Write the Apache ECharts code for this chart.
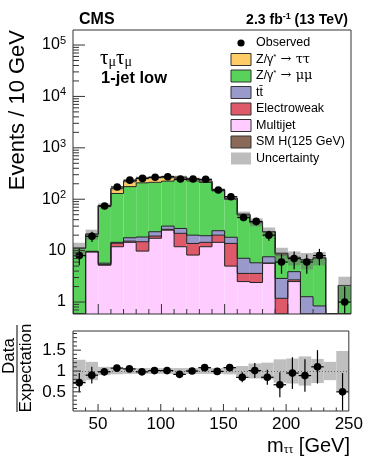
<!DOCTYPE html>
<html>
<head>
<meta charset="utf-8">
<script src="https://cdn.jsdelivr.net/npm/echarts@6/dist/echarts.min.js"></script>
<style>
html, body { margin: 0; padding: 0; background: #fff; }
#chart { width: 366px; height: 463px; }
</style>
</head>
<body>
<div id="chart"></div>
<script>
// lower bin edges, every bin is 10 GeV wide
var binLo = [30, 40, 50, 60, 70, 80, 90, 100, 110, 120, 130, 140, 150, 160, 170, 180, 190, 200, 210, 220, 230, 240]
// stacked backgrounds, bottom to top
var multijet = [0, 9.4, 5.2, 11.9, 14.5, 9.8, 17.4, 25, 11.9, 8.2, 11.9, 14.5, 5.0, 2.5, 2.4, 5.7, 0, 2.5, 0, 0, 0, 0]
var electroweak = [0, 0.1, 0.2, 2.0, 0.8, 5.1, 1.8, 1.0, 9.8, 5.6, 2.6, 5.5, 8.8, 1.1, 1.2, 0, 1.18, 0.2, 0, 0, 0, 0]
var ttbar = [0, 0.2, 0.3, 0.6, 2.5, 3.5, 4.1, 4.0, 5.3, 6.2, 5.0, 4.4, 4.4, 3.5, 2.2, 1.9, 1.7, 1.2, 1.27, 0.84, 0, 0]
var zmumu = [11.1, 11.0, 67, 115, 158, 190, 190, 195, 215, 207, 192, 121, 81, 42, 29, 15.4, 5.4, 3.3, 5.3, 6.3, 0, 2.1]
var ztautau = [0.1, 0.3, 3, 32, 48, 50, 52, 46, 26, 20, 14.5, 7.5, 5, 2, 1.2, 0.5, 0.6, 0.2, 0.1, 0.15, 0, 0]
var smHiggs = [0, 0, 0, 0, 0, 0, 0, 0, 0.2, 0.5, 0.8, 0.6, 0.3, 0.1, 0, 0, 0, 0, 0, 0, 0, 0]
var observed = [8, 19, 74, 173, 235, 254, 267, 274, 247, 247, 244, 151, 112, 44, 37, 20, 6, 7, 6, 8, 0, 1]
var relUnc = [0.27, 0.22, 0.10, 0.08, 0.07, 0.07, 0.07, 0.07, 0.07, 0.07, 0.07, 0.07, 0.08, 0.12, 0.18, 0.20, 0.28, 0.30, 0.35, 0.29, 0.22, 0.48]
var ratio = [0.72, 0.90, 0.98, 1.07, 1.05, 0.98, 1.01, 1.01, 0.92, 1.0, 1.08, 0.99, 1.08, 0.85, 1.01, 0.85, 0.67, 0.95, 0.89, 1.10, null, 0.5]
var ratioErr = [0.23, 0.20, 0.09, 0.06, 0.05, 0.05, 0.05, 0.05, 0.05, 0.05, 0.06, 0.07, 0.08, 0.12, 0.18, 0.18, 0.30, 0.38, 0.39, 0.40, null, 0.45]

var processes = [
  { name: 'Multijet', values: multijet, color: '#ffccff' },
  { name: 'Electroweak', values: electroweak, color: '#de5a6a' },
  { name: 'tt\u0304', values: ttbar, color: '#9999cc' },
  { name: 'Z/γ* → μμ', values: zmumu, color: '#58d25a' },
  { name: 'Z/γ* → ττ', values: ztautau, color: '#ffcc66' },
  { name: 'SM H(125 GeV)', values: smHiggs, color: '#8b6a5a' }
]

var yMin = 0.585
var yMax = 1.96e5
var rMin = 0.04
var rMax = 1.96
var FONT = '"Liberation Sans", Arial, sans-serif'
var SYM = '"Liberation Serif", "DejaVu Serif", serif'

function bandItem(params, api) {
  var p0 = api.coord([api.value(0), api.value(3)])
  var p1 = api.coord([api.value(1), api.value(2)])
  return {
    type: 'rect',
    shape: { x: p0[0], y: p0[1], width: p1[0] - p0[0], height: p1[1] - p0[1] },
    style: { fill: api.visual('color') }
  }
}

// ROOT-like step outline: top of the bin plus the edge joining the previous bin
function outlineItem(params, api) {
  var lo = api.value(0)
  var hi = api.value(1)
  var a = api.coord([lo, api.value(2)])
  var b = api.coord([hi, api.value(2)])
  var p = api.coord([lo, api.value(3)])
  return {
    type: 'group',
    children: [
      { type: 'line', shape: { x1: a[0], y1: a[1], x2: b[0], y2: b[1] }, style: { stroke: '#222', lineWidth: 1 } },
      { type: 'line', shape: { x1: p[0], y1: p[1], x2: a[0], y2: a[1] }, style: { stroke: '#222', lineWidth: 1 } }
    ]
  }
}

function pointItem(lowClip) {
  return function (params, api) {
    var x = api.value(0)
    var v = api.value(1)
    var e = api.value(2)
    var c = api.coord([x, v])
    var l = api.coord([x - 5, v])
    var r = api.coord([x + 5, v])
    var lo = api.coord([x, Math.max(v - e, lowClip)])
    var hi = api.coord([x, v + e])
    return {
      type: 'group',
      children: [
        { type: 'line', shape: { x1: l[0], y1: c[1], x2: r[0], y2: c[1] }, style: { stroke: '#000', lineWidth: 1.2 } },
        { type: 'line', shape: { x1: c[0], y1: lo[1], x2: c[0], y2: hi[1] }, style: { stroke: '#000', lineWidth: 1.2 } },
        { type: 'circle', shape: { cx: c[0], cy: c[1], r: 3.8 }, style: { fill: '#000' } }
      ]
    }
  }
}

function tickItem(bottom) {
  return function (params, api) {
    var kind = api.value(0)
    var v = api.value(1)
    var len = api.value(2)
    var p
    if (kind === 0) {
      p = api.coord([v, bottom])
      return { type: 'line', shape: { x1: p[0], y1: p[1], x2: p[0], y2: p[1] - len }, style: { stroke: '#333', lineWidth: 1 } }
    }
    p = api.coord([30, v])
    return { type: 'line', shape: { x1: p[0], y1: p[1], x2: p[0] + len, y2: p[1] }, style: { stroke: '#333', lineWidth: 1 } }
  }
}

// stacked histogram: fills, then outlines of each cumulative sum
var cum = binLo.map(function () { return 0 })
var series = []
processes.forEach(function (proc) {
  var fills = []
  var lines = []
  var prevTop = yMin
  binLo.forEach(function (lo, i) {
    var base = Math.max(cum[i], yMin)
    cum[i] += proc.values[i]
    var top = Math.max(cum[i], yMin)
    if (top > base) fills.push([lo, lo + 10, base, top])
    lines.push([lo, lo + 10, top, prevTop])
    prevTop = top
  })
  series.push({
    name: proc.name, type: 'custom', xAxisIndex: 0, yAxisIndex: 0, clip: true, z: 2,
    itemStyle: { color: proc.color }, renderItem: bandItem, data: fills
  })
  series.push({
    name: proc.name + ' outline', type: 'custom', xAxisIndex: 0, yAxisIndex: 0, clip: true, z: 3,
    renderItem: outlineItem, data: lines
  })
})

// uncertainty band on the total
var uncMain = []
var uncRatio = []
binLo.forEach(function (lo, i) {
  if (cum[i] > 0) uncMain.push([lo, lo + 10, cum[i] * (1 - relUnc[i]), cum[i] * (1 + relUnc[i])])
  uncRatio.push([lo, lo + 10, 1 - relUnc[i], 1 + relUnc[i]])
})
series.push({
  name: 'Uncertainty', type: 'custom', xAxisIndex: 0, yAxisIndex: 0, clip: true, z: 4,
  itemStyle: { color: 'rgba(105,105,105,0.45)' }, renderItem: bandItem, data: uncMain
})
series.push({
  name: 'UncertaintyRatio', type: 'custom', xAxisIndex: 1, yAxisIndex: 1, clip: true, z: 2,
  itemStyle: { color: '#bfbfbf' }, renderItem: bandItem, data: uncRatio,
  markLine: {
    silent: true, symbol: 'none', label: { show: false }, animation: false,
    lineStyle: { color: '#666', type: [1, 2], width: 1 },
    data: [{ yAxis: 1 }]
  }
})

// data points
var obsPoints = []
var ratioPoints = []
binLo.forEach(function (lo, i) {
  if (observed[i] > 0) obsPoints.push([lo + 5, observed[i], Math.sqrt(observed[i])])
  if (ratio[i] != null) ratioPoints.push([lo + 5, ratio[i], ratioErr[i]])
})
series.push({
  name: 'Observed', type: 'custom', xAxisIndex: 0, yAxisIndex: 0, clip: true, z: 6,
  renderItem: pointItem(yMin), data: obsPoints
})
series.push({
  name: 'ObservedRatio', type: 'custom', xAxisIndex: 1, yAxisIndex: 1, clip: true, z: 6,
  renderItem: pointItem(rMin), data: ratioPoints
})

// tick marks drawn ROOT-style inside the frames
var mainTicks = []
var ratioTicks = []
for (var x = 40; x < 250; x += 10) {
  mainTicks.push([0, x, x % 50 === 0 ? 10 : 5])
  ratioTicks.push([0, x, x % 50 === 0 ? 7 : 3.5])
}
for (var k = -1; k <= 5; k++) {
  for (var m = 1; m <= 9; m++) {
    var tv = m * Math.pow(10, k)
    if (tv > yMin && tv < yMax) mainTicks.push([1, tv, m === 1 ? 12 : 6])
  }
}
for (var j = 1; j <= 19; j++) ratioTicks.push([1, j / 10, j % 5 === 0 ? 8 : 4])
series.push({
  name: 'ticksMain', type: 'custom', xAxisIndex: 0, yAxisIndex: 0, z: 8, silent: true,
  renderItem: tickItem(yMin), data: mainTicks
})
series.push({
  name: 'ticksRatio', type: 'custom', xAxisIndex: 1, yAxisIndex: 1, z: 8, silent: true,
  renderItem: tickItem(rMin), data: ratioTicks
})

// legend entries drawn as graphics
var legendItems = [
  { name: 'Observed', dot: true },
  { name: 'Z/γ{sup|*}{sym| → ττ}', color: '#ffcc66' },
  { name: 'Z/γ{sup|*}{sym| → μμ}', color: '#58d25a' },
  { name: 'tt\u0304', color: '#9999cc' },
  { name: 'Electroweak', color: '#de5a6a' },
  { name: 'Multijet', color: '#ffccff' },
  { name: 'SM H(125 GeV)', color: '#8b6a5a' },
  { name: 'Uncertainty', color: '#bdbdbd', noBorder: true }
]
var graphics = []
legendItems.forEach(function (item, i) {
  var cy = 43 + i * 16.5
  if (item.dot) {
    graphics.push({ type: 'circle', shape: { cx: 241, cy: cy, r: 3.6 }, style: { fill: '#000' }, z: 20 })
  } else {
    graphics.push({
      type: 'rect', shape: { x: 231, y: cy - 6, width: 20, height: 12 },
      style: { fill: item.color, stroke: item.noBorder ? null : '#333', lineWidth: 1 }, z: 20
    })
  }
  graphics.push({
    type: 'text', x: 256, y: cy, z: 20,
    style: {
      text: item.name, font: '12.5px ' + FONT, fill: '#000', verticalAlign: 'middle',
      rich: {
        sup: { fontSize: 8, fontFamily: 'Liberation Sans', padding: [0, 0, 6, 0] },
        sym: { fontSize: 13, fontFamily: 'DejaVu Serif' }
      }
    }
  })
})

graphics.push(
  { type: 'text', x: 79, y: 20, z: 20, style: { text: 'CMS', font: 'bold 16px ' + FONT, fill: '#000', verticalAlign: 'middle' } },
  {
    type: 'text', x: 348, y: 20, z: 20,
    style: {
      text: '{b|2.3 fb}{s|-1}{b| (13 TeV)}', align: 'right', verticalAlign: 'middle',
      rich: {
        b: { font: 'bold 14px ' + FONT, fill: '#000' },
        s: { font: 'bold 9px ' + FONT, fill: '#000', padding: [0, 0, 7, 0] }
      }
    }
  },
  {
    type: 'text', x: 18, y: 30, rotation: Math.PI / 2, z: 20,
    style: { text: 'Events / 10 GeV', font: '22px ' + FONT, fill: '#000', align: 'right', verticalAlign: 'middle' }
  },
  {
    type: 'text', x: 100, y: 58, z: 20,
    style: {
      text: '{t|τ}{u|μ}{t|τ}{u|μ}', verticalAlign: 'middle',
      rich: {
        t: { font: '21px ' + SYM, fill: '#000' },
        u: { font: '14px ' + SYM, fill: '#000', padding: [8, 0, 0, 0] }
      }
    }
  },
  { type: 'text', x: 101, y: 78, z: 20, style: { text: '1-jet low', font: 'bold 16.5px ' + FONT, fill: '#000', verticalAlign: 'middle' } },
  {
    type: 'text', x: 350, y: 446, z: 20,
    style: {
      text: '{m|m}{s|ττ}{m| [GeV]}', align: 'right', verticalAlign: 'middle',
      rich: {
        m: { font: '20px ' + FONT, fill: '#000' },
        s: { font: '12px ' + SYM, fill: '#000', padding: [8, 0, 0, 0] }
      }
    }
  },
  {
    type: 'text', x: 9, y: 356, rotation: Math.PI / 2, z: 20,
    style: { text: 'Data', font: '17px ' + FONT, fill: '#000', align: 'center', verticalAlign: 'middle' }
  },
  { type: 'line', shape: { x1: 17, y1: 325, x2: 17, y2: 412 }, style: { stroke: '#000', lineWidth: 1 }, z: 20 },
  {
    type: 'text', x: 26, y: 368, rotation: Math.PI / 2, z: 20,
    style: { text: 'Expectation', font: '17px ' + FONT, fill: '#000', align: 'center', verticalAlign: 'middle' }
  }
)

function logLabel(v) {
  var l = Math.log10(v)
  var k = Math.round(l)
  if (Math.abs(l - k) > 1e-6) return ''
  if (k === 0) return '1'
  if (k === 1) return '10'
  return '10{sup|' + k + '}'
}

function ratioLabel(v) {
  if (Math.abs(v - 0.5) < 1e-6) return '0.5'
  if (Math.abs(v - 1) < 1e-6) return '1'
  if (Math.abs(v - 1.5) < 1e-6) return '1.5'
  return ''
}

var chart = echarts.init(document.getElementById('chart'), null, { renderer: 'canvas' })
chart.setOption({
  animation: false,
  backgroundColor: '#fff',
  grid: [
    { left: 73, right: 15, top: 30, height: 284, show: true, borderColor: '#333', borderWidth: 1, z: 10 },
    { left: 73, right: 15, top: 331, height: 80, show: true, borderColor: '#333', borderWidth: 1, z: 10 }
  ],
  xAxis: [
    {
      type: 'value', gridIndex: 0, min: 30, max: 250, interval: 10,
      axisLine: { show: false }, axisTick: { show: false }, axisLabel: { show: false }, splitLine: { show: false }
    },
    {
      type: 'value', gridIndex: 1, min: 30, max: 250, interval: 10,
      axisLine: { show: false }, axisTick: { show: false }, splitLine: { show: false },
      axisLabel: {
        margin: 5, fontSize: 17, fontFamily: 'Liberation Sans', color: '#000',
        formatter: function (v) { return v % 50 === 0 ? String(v) : '' }
      }
    }
  ],
  yAxis: [
    {
      type: 'log', logBase: 10, gridIndex: 0, min: yMin, max: yMax,
      axisLine: { show: false }, axisTick: { show: false }, splitLine: { show: false }, minorTick: { show: false },
      axisLabel: {
        margin: 7, fontSize: 16, fontFamily: 'Liberation Sans', color: '#000', formatter: logLabel,
        rich: { sup: { fontSize: 11, fontFamily: 'Liberation Sans', color: '#000', padding: [0, 0, 8, 0] } }
      }
    },
    {
      type: 'value', gridIndex: 1, min: rMin, max: rMax, interval: 0.02,
      axisLine: { show: false }, axisTick: { show: false }, splitLine: { show: false },
      axisLabel: { margin: 7, fontSize: 17, fontFamily: 'Liberation Sans', color: '#000', formatter: ratioLabel }
    }
  ],
  graphic: graphics,
  series: series
})
</script>
</body>
</html>
